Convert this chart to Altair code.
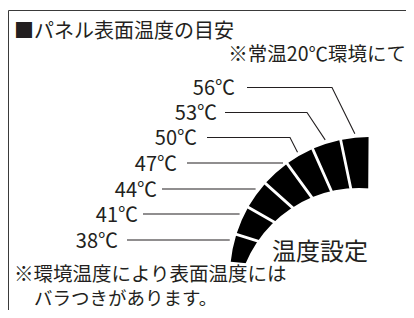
import math
import altair as alt
import pandas as pd

# ---------------- content ----------------
TITLE = "■パネル表面温度の目安"
SUBTITLE = "※常温20℃環境にて"
temps = [38, 41, 44, 47, 50, 53, 56]
UNIT = "℃"
GAUGE_LABEL = "温度設定"
NOTE_1 = "※環境温度により表面温度には"
NOTE_2 = "バラつきがあります。"

# ---------------- layout (page pixels) ----------------
OFF = 8                      # page margin
W, H = 398, 302              # chart size
FONT = "Noto Sans CJK JP"
INK = "#231f20"

label_y = [240, 214, 189, 163, 137.5, 112.5, 87.5]
label_right = [118, 138, 157, 177, 197, 217, 235]
line_start = [127, 143, 162, 187, 207, 225, 247]
line_knee = [None, None, None, None, 290, 307, 332]
TEXT_DY = 3.0                # CJK glyph centre correction
LABEL_DY = 1.5

OUT_C = (369, 276)
OUT_R = 139
IN_C = (359, 311)
IN_R = 123
START_DEG = 275.3            # Vega angle convention (0 = up, clockwise)
SPAN_DEG = 85.1
INNER_CUT = 70
GAP = 2.8

n = len(temps)
step = SPAN_DEG / n

# ---------------- segments ----------------
seg = pd.DataFrame({
    "temp": temps,
    "t0": [math.radians(START_DEG + i * step) for i in range(n)],
    "t1": [math.radians(START_DEG + (i + 1) * step) for i in range(n)],
    "cx": [OUT_C[0] - OFF] * n,
    "cy": [OUT_C[1] - OFF] * n,
    "ro": [OUT_R] * n,
    "ri": [INNER_CUT] * n,
})
pad = GAP / math.sqrt(OUT_R ** 2 + INNER_CUT ** 2)

X = lambda f: alt.X(f, type="quantitative", scale=None, axis=None)
Y = lambda f: alt.Y(f, type="quantitative", scale=None, axis=None)

arcs = alt.Chart(seg).mark_arc(color="black", padAngle=pad).encode(
    x=X("cx"), y=Y("cy"),
    theta=alt.Theta("t0:Q", scale=None, stack=None),
    theta2="t1:Q",
    radius=alt.Radius("ro:Q", scale=None),
    radius2="ri:Q",
)

cut_df = pd.DataFrame({"cx": [IN_C[0] - OFF], "cy": [IN_C[1] - OFF],
                       "t0": [0.0], "t1": [2 * math.pi], "r": [IN_R]})
cut = alt.Chart(cut_df).mark_arc(color="white").encode(
    x=X("cx"), y=Y("cy"),
    theta=alt.Theta("t0:Q", scale=None, stack=None),
    theta2="t1:Q",
    radius=alt.Radius("r:Q", scale=None),
)

# ---------------- leader lines ----------------
rows = []
for i, t in enumerate(temps):
    y = label_y[i]
    pts = [(line_start[i], y)]
    if line_knee[i] is None:
        dy = OUT_C[1] - y
        xe = OUT_C[0] - math.sqrt(OUT_R ** 2 - dy ** 2) - 5
        pts.append((xe, y))
    else:
        mid = math.radians(START_DEG + (i + 0.5) * step)
        r = OUT_R + 4
        xe = OUT_C[0] + r * math.sin(mid)
        ye = OUT_C[1] - r * math.cos(mid)
        pts.append((line_knee[i], y))
        pts.append((xe, ye))
    for k, (px, py) in enumerate(pts):
        rows.append({"id": t, "o": k, "x": px - OFF, "y": py - OFF})
lines_df = pd.DataFrame(rows)
lines = alt.Chart(lines_df).mark_line(color=INK, strokeWidth=1.1).encode(
    x=X("x"), y=Y("y"), detail="id:N", order="o:Q")

# ---------------- texts ----------------
lab_df = pd.DataFrame({
    "text": [f"{t}{UNIT}" for t in temps],
    "x": [v - OFF for v in label_right],
    "y": [v - OFF + LABEL_DY for v in label_y],
})
labels = alt.Chart(lab_df).mark_text(
    align="right", baseline="middle", font=FONT, fontSize=20, color=INK
).encode(x=X("x"), y=Y("y"), text="text:N")


def txt(s, x, y, size, align="left"):
    d = pd.DataFrame({"text": [s], "x": [x - OFF], "y": [y - OFF + TEXT_DY]})
    return alt.Chart(d).mark_text(
        align=align, baseline="middle", font=FONT, fontSize=size, color=INK
    ).encode(x=X("x"), y=Y("y"), text="text:N")


title = txt(TITLE, 14, 29, 20)
subtitle = txt(SUBTITLE, 406, 52, 19.5, align="right")
gauge = txt(GAUGE_LABEL, 272, 250, 24)
note1 = txt(NOTE_1, 14, 272, 19.5)
note2 = txt(NOTE_2, 34, 296, 18.5)

box = alt.Chart(pd.DataFrame({"a": [0]})).mark_rect(
    filled=False, color="#3a3a3a", strokeWidth=1
).encode(x=alt.value(0.5), x2=alt.value(W + 30), y=alt.value(2.5), y2=alt.value(H + 30))

chart = alt.layer(
    box, arcs, cut, lines, labels, title, subtitle, gauge, note1, note2
).properties(width=W, height=H, padding=0, autosize="none").configure_view(stroke=None)

chart.save("out.html", embed_options={"renderer": "svg", "actions": False})
